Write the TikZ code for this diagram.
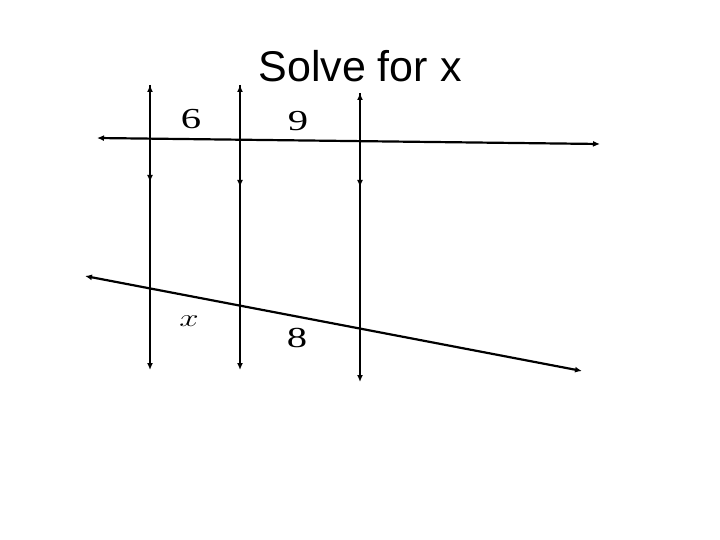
\documentclass[tikz,border=0pt]{standalone}
\usepackage{fontspec}
\usepackage{graphicx}
\newfontfamily\titlefont{Liberation Sans}
\newfontfamily\digitfont{Liberation Serif}
\newcommand\widen[1]{\scalebox{1.4}[1]{#1}}
\usetikzlibrary{arrows.meta}

\begin{document}
\begin{tikzpicture}[x=1pt,y=-1pt,
    line/.style={line width=2.2pt},
    tip/.style={-{Latex[length=7pt,width=6pt]}},
    both/.style={{Latex[length=7pt,width=6pt]}-{Latex[length=7pt,width=6pt]}},
    num/.style={font=\digitfont\fontsize{29}{29}\selectfont, inner sep=0pt}]
  \useasboundingbox (0,0) rectangle (720,540);

  \node[font=\titlefont\fontsize{43}{50}\selectfont, anchor=base] (title) at (360,82) {Solve for x};

  % the three parallels
  \foreach \i/\x/\t/\m/\b in {1/150/85/182/370, 2/240/85/187/370, 3/360/93/187/382}{
    \coordinate (top\i) at (\x,\t);
    \coordinate (mid\i) at (\x,\m);
    \coordinate (bot\i) at (\x,\b);
    \draw[line,tip] (top\i) -- (bot\i);
    \draw[line,both] (top\i) -- (mid\i);
  }

  % the two transversals
  \coordinate (upL) at (97,138);
  \coordinate (upR) at (600,144);
  \coordinate (lowL) at (85,276);
  \coordinate (lowR) at (582,371);
  \draw[line,both] (upL) -- (upR);
  \draw[line,both] (lowL) -- (lowR);

  \node[num] (six) at (191,119) {\widen{6}};
  \node[num] (nine) at (298,121) {\widen{9}};
  \node[num] (eight) at (297,338) {\widen{8}};
  \node[font=\fontsize{27}{27}\selectfont, inner sep=0pt] (ex) at (189,321) {\widen{$x$}};
\end{tikzpicture}
\end{document}
